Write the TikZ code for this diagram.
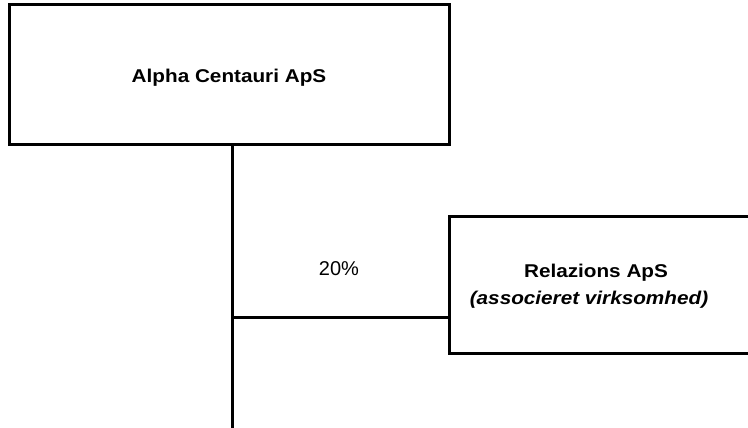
\documentclass[tikz,border=0pt]{standalone}
\usepackage{fontspec}
\setmainfont{Liberation Sans}
\begin{document}
\begin{tikzpicture}[x=1pt, y=-1pt,
  box/.style={draw, line width=3pt, rectangle, inner sep=0pt},
  conn/.style={line width=3pt},
  boldname/.style={font=\fontsize{18.5}{27}\selectfont\bfseries, inner sep=0pt, anchor=base},
  note/.style={font=\fontsize{18.5}{27}\selectfont\bfseries\itshape, inner sep=0pt, anchor=base},
  share/.style={font=\fontsize{20}{24}\selectfont, inner sep=0pt, anchor=base}]
  % page frame
  \clip (0,0) rectangle (748,428);
  % parent company
  \node[box, minimum width=440pt, minimum height=140pt] (alpha) at (229,75) {};
  \node[boldname] (alphaname) at (229,83) {\scalebox{1.12}[1]{Alpha Centauri ApS}};
  % associated company (box runs off the right edge)
  \node[box, minimum width=331pt, minimum height=137pt] (rel) at (614.5,284.5) {};
  \node[boldname] (relname) at (596,277) {\scalebox{1.12}[1]{Relazions ApS}};
  \node[note] (relnote) at (589,304) {\scalebox{1.12}[1]{(associeret virksomhed)}};
  % ownership lines
  \coordinate (j) at (232,317);
  \coordinate (bot) at (232,430);
  \draw[conn] (alpha.south -| j) -- (bot);
  \draw[conn] (j) -- (j -| rel.west);
  \node[share] (pct) at (339,275) {20\%};
\end{tikzpicture}
\end{document}
